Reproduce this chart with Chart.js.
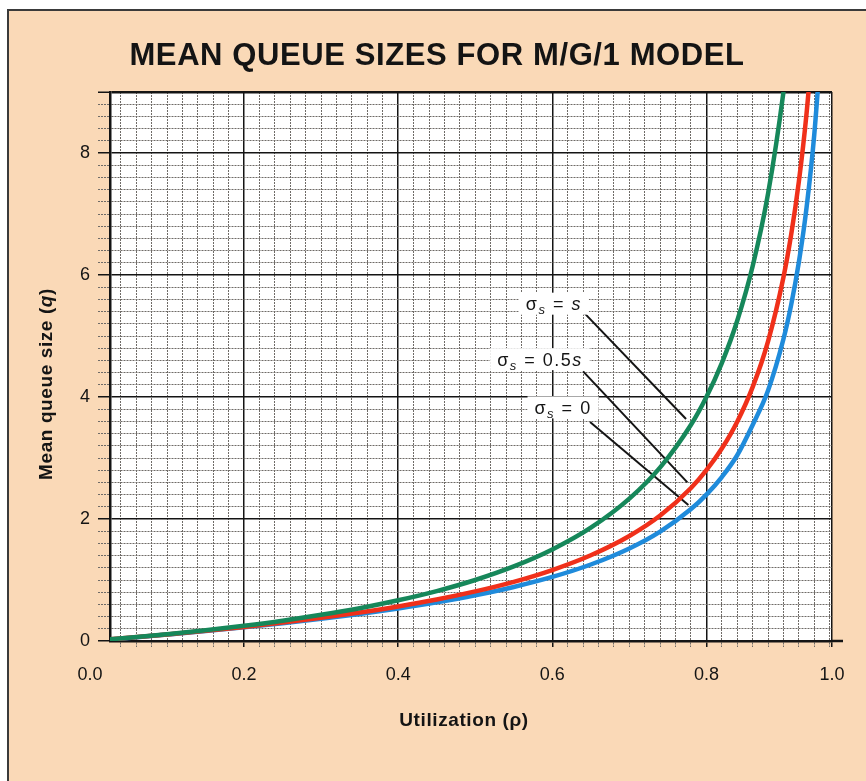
<!DOCTYPE html>
<html>
<head>
<meta charset="utf-8">
<title>Mean queue sizes for M/G/1 model</title>
<script src="https://cdn.jsdelivr.net/npm/chart.js@4.4.0/dist/chart.umd.min.js"></script>
<style>
  html, body { margin: 0; padding: 0; background: #fff; }
  canvas { display: block; }
</style>
</head>
<body>
<canvas id="queueChart" width="866" height="781"></canvas>
<script>
// Utilization (rho) values shared by the three curves
const utilization = [0, 0.05, 0.1, 0.15, 0.2, 0.25, 0.3, 0.35, 0.4, 0.45, 0.5, 0.55, 0.6, 0.65,
  0.7, 0.74, 0.78, 0.8, 0.82, 0.84, 0.86, 0.88, 0.9, 0.91, 0.92, 0.93, 0.94, 0.95];

// Mean queue size (curves run off the top of the plot)
const queueSigmaS = [0, 0.053, 0.111, 0.176, 0.25, 0.333, 0.429, 0.538, 0.667, 0.818, 1.0, 1.222,
  1.5, 1.857, 2.333, 2.846, 3.545, 4.0, 4.556, 5.25, 6.143, 7.333, 9.0, 10.11];
const queueSigmaHalf = [0, 0.052, 0.107, 0.167, 0.231, 0.302, 0.38, 0.468, 0.567, 0.68, 0.813, 0.97,
  1.163, 1.405, 1.721, 2.056, 2.508, 2.8, 3.155, 3.596, 4.162, 4.913, 5.963, 6.661, 7.533, 8.652, 10.14];
const queueSigmaZero = [0, 0.051, 0.106, 0.163, 0.225, 0.292, 0.364, 0.444, 0.533, 0.634, 0.75, 0.886,
  1.05, 1.254, 1.517, 1.793, 2.163, 2.4, 2.688, 3.045, 3.541, 4.107, 4.95, 5.511, 6.21, 7.108, 8.303, 9.975];

const seriesLabels = ['σs = s', 'σs = 0.5s', 'σs = 0'];

// The printed grid runs from just past 0 to just short of 1.0;
// the "1.0" label sits on its right edge
const xMin = 0.026;
const xMax = 0.963;
const xTickValues = [0, 0.2, 0.4, 0.6, 0.8, xMax];
const xTickLabels = ['0.0', '0.2', '0.4', '0.6', '0.8', '1.0'];
const yTickValues = [0, 2, 4, 6, 8];
const yTickLabels = ['0', '2', '4', '6', '8'];
const xMinorStep = 0.02;
const yMinorStep = 0.2;
const yMax = 9;

const colors = {
  paper: '#fad9b7',
  frame: '#3a3a3a',
  ink: '#141414',
  minor: '#6f6b67',
  green: '#16875a',
  red: '#f0301a',
  blue: '#1f8bdb'
};
const family = "'Liberation Sans', Arial, sans-serif";

// Callout boxes and their leader lines, in data units
const callouts = [
  { label: seriesLabels[0], at: [0.602, 5.53], from: [0.642, 5.37], to: [0.7736, 3.64] },
  { label: seriesLabels[1], at: [0.584, 4.62], from: [0.64, 4.42], to: [0.7753, 2.6] },
  { label: seriesLabels[2], at: [0.614, 3.83], from: [0.649, 3.59], to: [0.7766, 2.23] }
];

function buildTicks(majors, step, min, max) {
  const values = [];
  for (let i = 0; i * step <= max + 1e-9; i++) {
    const v = Math.round(i * step * 1000) / 1000;
    if (v >= min - 1e-9) values.push(v);
  }
  majors.forEach(v => {
    if (!values.some(w => Math.abs(w - v) < 1e-6)) values.push(v);
  });
  return values.sort((a, b) => a - b);
}

const xAllTicks = buildTicks(xTickValues, xMinorStep, xMin, xMax);
const yAllTicks = buildTicks(yTickValues, yMinorStep, 0, yMax);

function indexIn(list, v) {
  return list.findIndex(w => Math.abs(w - v) < 1e-6);
}

// Major lines are solid black, the rest fine dotted grey; ticks left of the axis draw no line
function lineStyle(majors, min, edge) {
  const outside = ctx => ctx.tick && ctx.tick.value < min - 1e-6;
  const isStrong = ctx => ctx.tick && (indexIn(majors, ctx.tick.value) >= 0 || Math.abs(ctx.tick.value - edge) < 1e-6);
  const color = ctx => outside(ctx) ? 'rgba(0,0,0,0)' : (isStrong(ctx) ? colors.ink : colors.minor);
  return {
    color,
    tickColor: color,
    lineWidth: ctx => {
      if (ctx.tick && edge === yMax && Math.abs(ctx.tick.value - edge) < 1e-6) return 2.5;
      return isStrong(ctx) ? 1.5 : 1;
    },
    tickWidth: ctx => isStrong(ctx) ? 1.5 : 1,
    tickBorderDash: ctx => (ctx.tick && !isStrong(ctx)) ? [2, 1] : [],
    dash: ctx => (ctx.tick && !isStrong(ctx)) ? [2, 1] : []
  };
}

const xStyle = lineStyle(xTickValues, xMin, xMax);
const yStyle = lineStyle(yTickValues, 0, yMax);

function series(label, values, color) {
  return {
    label,
    data: values.map((q, i) => ({ x: utilization[i], y: q })),
    borderColor: color,
    borderWidth: 4.5,
    pointRadius: 0,
    cubicInterpolationMode: 'monotone',
    clip: 0
  };
}

function splitLabel(label) {
  const parts = [
    { text: label[0], font: `18px ${family}` },
    { text: label[1], font: `italic 13px ${family}`, sub: true }
  ];
  let buf = '';
  for (const ch of label.slice(2)) {
    if (ch === 's') {
      if (buf) parts.push({ text: buf, font: `18px ${family}` });
      buf = '';
      parts.push({ text: ch, font: `italic 18px ${family}` });
    } else {
      buf += ch;
    }
  }
  if (buf) parts.push({ text: buf, font: `18px ${family}` });
  return parts;
}

function drawParts(ctx, parts, x, y) {
  let total = 0;
  parts.forEach(p => { ctx.font = p.font; p.w = ctx.measureText(p.text).width; total += p.w; });
  let cx = x - total / 2;
  parts.forEach(p => {
    ctx.font = p.font;
    ctx.fillText(p.text, cx, y + (p.sub ? 4 : 0));
    cx += p.w;
  });
  return total;
}

const paperPlugin = {
  id: 'paper',
  beforeDraw(chart) {
    const { ctx, width, height, chartArea } = chart;
    ctx.save();
    ctx.fillStyle = '#fff';
    ctx.fillRect(0, 0, width, height);
    ctx.fillStyle = colors.paper;
    ctx.fillRect(8, 10, width - 8, height - 10);
    ctx.strokeStyle = colors.frame;
    ctx.lineWidth = 2;
    ctx.beginPath();
    ctx.moveTo(8, height);
    ctx.lineTo(8, 10);
    ctx.lineTo(width, 10);
    ctx.stroke();
    ctx.fillStyle = '#fff';
    ctx.fillRect(chartArea.left, chartArea.top, chartArea.right - chartArea.left, chartArea.bottom - chartArea.top);
    ctx.restore();
  }
};

const calloutPlugin = {
  id: 'callouts',
  beforeDatasetsDraw(chart) {
    const { ctx, scales: { x, y } } = chart;
    ctx.save();
    callouts.forEach(c => {
      ctx.strokeStyle = colors.ink;
      ctx.lineWidth = 2;
      ctx.beginPath();
      ctx.moveTo(x.getPixelForValue(c.from[0]), y.getPixelForValue(c.from[1]));
      ctx.lineTo(x.getPixelForValue(c.to[0]), y.getPixelForValue(c.to[1]));
      ctx.stroke();
    });
    ctx.letterSpacing = '1.5px';
    callouts.forEach(c => {
      const parts = splitLabel(c.label);
      let total = 0;
      parts.forEach(p => { ctx.font = p.font; total += ctx.measureText(p.text).width; });
      const cx = x.getPixelForValue(c.at[0]);
      const cy = y.getPixelForValue(c.at[1]);
      ctx.fillStyle = '#fff';
      ctx.fillRect(cx - total / 2 - 7, cy - 11, total + 14, 22);
      ctx.fillStyle = colors.ink;
      ctx.textBaseline = 'alphabetic';
      drawParts(ctx, parts, cx, cy + 6.5);
    });
    ctx.restore();
  },
  afterDraw(chart) {
    const { ctx, chartArea } = chart;
    ctx.save();
    // bottom axis runs a little past the grid
    ctx.strokeStyle = colors.ink;
    ctx.lineWidth = 2.5;
    ctx.beginPath();
    ctx.moveTo(chartArea.right - 1, chartArea.bottom);
    ctx.lineTo(chartArea.right + 11, chartArea.bottom);
    ctx.stroke();

    ctx.fillStyle = colors.ink;
    ctx.textBaseline = 'middle';

    // chart title
    ctx.letterSpacing = '0.6px';
    ctx.textAlign = 'center';
    ctx.font = `bold 31px ${family}`;
    ctx.fillText('MEAN QUEUE SIZES FOR M/G/1 MODEL', 437, 56);

    // x axis title
    ctx.font = `bold 19px ${family}`;
    ctx.fillText('Utilization (ρ)', 464, 721);

    // y axis title with italic q
    ctx.textAlign = 'left';
    ctx.translate(47, 384);
    ctx.rotate(-Math.PI / 2);
    drawParts(ctx, [
      { text: 'Mean queue size (', font: `bold 19px ${family}` },
      { text: 'q', font: `italic bold 19px ${family}` },
      { text: ')', font: `bold 19px ${family}` }
    ], 0, 0);
    ctx.restore();
  }
};

new Chart(document.getElementById('queueChart'), {
  type: 'line',
  data: {
    datasets: [
      series(seriesLabels[0], queueSigmaS, colors.green),
      series(seriesLabels[1], queueSigmaHalf, colors.red),
      series(seriesLabels[2], queueSigmaZero, colors.blue)
    ]
  },
  options: {
    responsive: false,
    animation: false,
    layout: { padding: { top: 92, right: 34 } },
    plugins: {
      legend: { display: false },
      title: { display: false },
      tooltip: { enabled: false }
    },
    scales: {
      x: {
        type: 'linear',
        min: xMin,
        max: xMax,
        afterBuildTicks: s => { s.ticks = xAllTicks.map(v => ({ value: v })); },
        afterFit: s => { s.height = 140; },
        ticks: {
          autoSkip: false,
          maxRotation: 0,
          padding: 17,
          color: colors.ink,
          font: { family, size: 18 },
          callback: v => { const i = indexIn(xTickValues, v); return i >= 0 ? xTickLabels[i] : ''; }
        },
        grid: {
          color: xStyle.color,
          lineWidth: xStyle.lineWidth,
          tickColor: xStyle.tickColor,
          tickWidth: xStyle.tickWidth,
          tickBorderDash: xStyle.tickBorderDash,
          tickLength: 6
        },
        border: { color: colors.ink, width: 2.5, dash: xStyle.dash }
      },
      y: {
        type: 'linear',
        min: 0,
        max: yMax,
        afterBuildTicks: s => { s.ticks = yAllTicks.map(v => ({ value: v })); },
        afterFit: s => { s.width = 110; },
        ticks: {
          autoSkip: false,
          padding: 8,
          color: colors.ink,
          font: { family, size: 18 },
          callback: v => { const i = indexIn(yTickValues, v); return i >= 0 ? yTickLabels[i] : ''; }
        },
        grid: {
          color: yStyle.color,
          lineWidth: yStyle.lineWidth,
          tickColor: yStyle.tickColor,
          tickWidth: yStyle.tickWidth,
          tickBorderDash: yStyle.tickBorderDash,
          tickLength: 12
        },
        border: { color: colors.ink, width: 2.5, dash: yStyle.dash }
      }
    }
  },
  plugins: [paperPlugin, calloutPlugin]
});
</script>
</body>
</html>
